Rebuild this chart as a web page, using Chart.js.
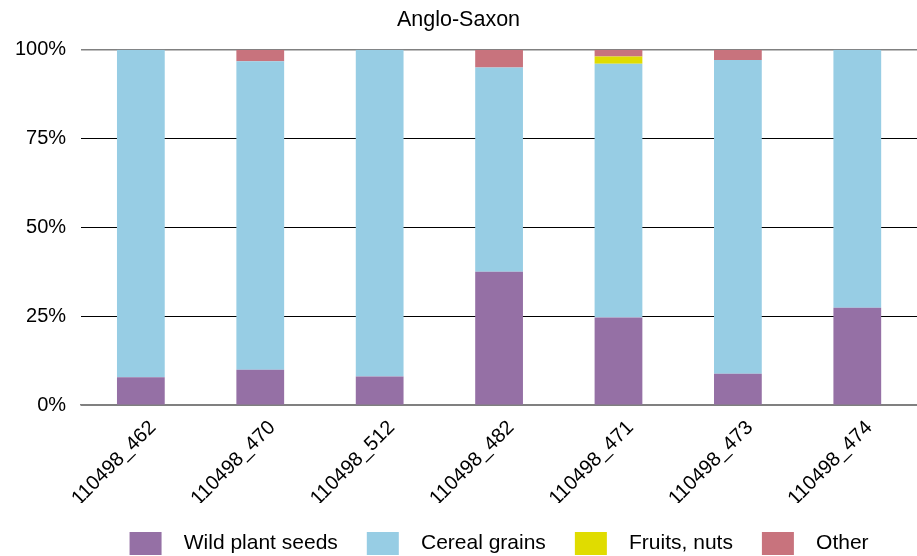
<!DOCTYPE html>
<html lang="en">
<head>
  <meta charset="utf-8">
  <title>Anglo-Saxon</title>
  <script src="https://cdn.jsdelivr.net/npm/chart.js@4.4.0/dist/chart.umd.min.js"></script>
  <style>
    html, body { margin: 0; padding: 0; background: #fff; }
    #wrap { width: 917px; height: 556px; }
  </style>
</head>
<body>
  <div id="wrap"><canvas id="chart"></canvas></div>

  <script>
    // samples along the x axis
    var samples = ['110498_462', '110498_470', '110498_512', '110498_482', '110498_471', '110498_473', '110498_474'];

    // share of each plant group per sample, in percent
    var wildSeeds  = [7.8, 9.9, 8.0, 37.5, 24.6, 8.8, 27.4];
    var cereals    = [92.2, 86.9, 92.0, 57.5, 71.5, 88.3, 72.6];
    var fruitsNuts = [0, 0, 0, 0, 2.0, 0, 0];
    var other      = [0, 3.2, 0, 5.0, 1.9, 2.9, 0];

    var yTicks = [0, 25, 50, 75, 100];

    var family = '"Liberation Sans", Arial, sans-serif';
    var font = { family: family, size: 20 };

    var data = {
      labels: samples,
      datasets: [
        { label: 'Wild plant seeds', data: wildSeeds,  backgroundColor: '#9570a5' },
        { label: 'Cereal grains',    data: cereals,    backgroundColor: '#97cde4' },
        { label: 'Fruits, nuts',     data: fruitsNuts, backgroundColor: '#e0dc00' },
        { label: 'Other',            data: other,      backgroundColor: '#c8737d' }
      ]
    };

    // center the legend under the plot area instead of the whole canvas
    var legendUnderPlot = {
      id: 'legendUnderPlot',
      afterLayout: function (chart) {
        var lg = chart.legend;
        if (!lg) return;
        lg.left = chart.chartArea.left;
        lg.right = chart.chartArea.right;
        lg.width = lg.right - lg.left;
      }
    };

    new Chart(document.getElementById('chart').getContext('2d'), {
      type: 'bar',
      data: data,
      plugins: [legendUnderPlot],
      options: {
        responsive: true,
        maintainAspectRatio: false,
        animation: false,
        datasets: { bar: { barPercentage: 0.4, categoryPercentage: 1 } },
        layout: { padding: { left: 0, right: 0, top: 0, bottom: -9 } },
        plugins: {
          title: {
            display: true,
            text: 'Anglo-Saxon',
            color: '#000',
            font: { family: family, size: 21.5, weight: 'normal' },
            padding: { top: 7, bottom: 17 }
          },
          legend: {
            position: 'bottom',
            labels: {
              color: '#000',
              font: { family: family, size: 21 },
              boxWidth: 32,
              boxHeight: 23,
              padding: 29,
              generateLabels: function (chart) {
                var items = Chart.defaults.plugins.legend.labels.generateLabels(chart);
                items.forEach(function (it) {
                  it.text = '  ' + it.text;
                  it.lineWidth = 0;
                });
                return items;
              }
            }
          },
          tooltip: { enabled: false }
        },
        scales: {
          x: {
            stacked: true,
            grid: { display: false },
            border: { display: true, color: '#808080', width: 1.5 },
            afterFit: function (scale) { scale.height = 98; },
            ticks: {
              color: '#000',
              font: font,
              autoSkip: false,
              minRotation: 45,
              maxRotation: 45,
              labelOffset: 12
            }
          },
          y: {
            stacked: true,
            min: 0,
            max: 100,
            afterBuildTicks: function (axis) {
              axis.ticks = yTicks.map(function (v) { return { value: v }; });
            },
            border: { display: false },
            grid: {
              drawTicks: false,
              color: function (ctx) {
                return (ctx.tick && (ctx.tick.value === 0 || ctx.tick.value === 100)) ? '#808080' : '#000';
              },
              lineWidth: function (ctx) {
                return (ctx.tick && ctx.tick.value === 100) ? 1.5 : 1;
              }
            },
            ticks: {
              color: '#000',
              font: font,
              padding: 15,
              callback: function (v) { return v + '%'; }
            }
          }
        }
      }
    });
  </script>
</body>
</html>
